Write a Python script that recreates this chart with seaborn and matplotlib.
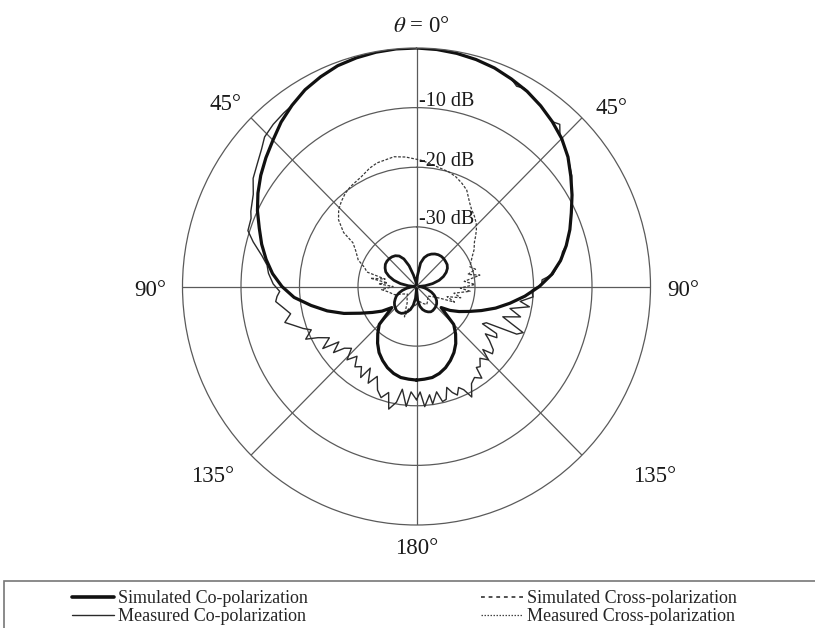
import numpy as np
import matplotlib
matplotlib.use("Agg")
import matplotlib.pyplot as plt
from matplotlib.lines import Line2D
from matplotlib.patches import Rectangle
import seaborn as sns

sns.set_theme(style="white")
plt.rcParams["font.family"] = ["Liberation Serif", "DejaVu Serif"]
plt.rcParams["mathtext.fontset"] = "stix"

# ---- radiation pattern data (dB, angle in degrees from broadside) ----
sim_angles = list(range(-180, 181, 5))

sim_co = [
    -24.3, -24.4, -24.5, -24.9, -25.5, -26.3, -27.2, -28.4, -29.7, -31.0,
    -34.5, -32.8, -31.3, -29.4, -26.8, -24.2, -21.7, -19.0, -17.0, -15.3,
    -13.9, -12.6, -11.4, -10.0, -8.7, -7.5, -6.4, -5.3, -4.0, -2.9,
    -1.9, -1.2, -0.6, -0.3, -0.1, 0.0, 0.0, -0.1, -0.3, -0.6,
    -1.0, -1.6, -2.2, -3.0, -3.9, -4.9, -6.2, -7.8, -9.3, -10.8,
    -12.1, -13.5, -15.0, -16.8, -19.0, -21.4, -23.8, -26.0, -28.2, -30.1,
    -31.6, -33.0, -34.5, -31.0, -29.6, -28.3, -27.2, -26.3, -25.5, -24.9,
    -24.5, -24.4, -24.3,
]

sim_cross = [
    -39.6, -38.0, -36.8, -36.0, -35.5, -35.1, -34.8, -34.7, -34.7, -34.9,
    -35.1, -35.4, -35.8, -36.2, -36.8, -37.5, -38.3, -39.1, -39.7, -38.6,
    -37.2, -36.0, -35.0, -34.2, -33.8, -33.5, -33.4, -33.4, -33.5, -33.7,
    -34.1, -34.9, -36.3, -38.0, -39.0, -39.5, -39.7, -38.2, -36.0, -35.0,
    -34.4, -34.0, -33.7, -33.5, -33.4, -33.4, -33.5, -33.6, -33.9, -34.4,
    -35.1, -36.0, -37.2, -38.5, -39.6, -39.2, -38.6, -38.0, -37.3, -36.7,
    -36.2, -35.8, -35.5, -35.3, -35.2, -35.1, -35.1, -35.3, -35.6, -36.0,
    -36.6, -37.6, -39.6,
]

meas_co_angles = [
    -180, -177, -175, -172, -170, -167, -165, -162, -159, -156,
    -153, -150, -148, -145, -142, -139, -136, -133, -130, -128,
    -125, -123, -120, -117, -115, -112, -110, -107, -105, -102,
    -99, -96, -94, -92, -89, -85, -82, -79, -75, -72,
    -68, -66, -61, -57, -53, -49, -46, -42, -38, -35,
    -30, -25, -20, -15, -10, -5, 0, 5, 10, 15,
    20, 25, 27, 29, 35, 40, 42, 44, 50, 55,
    57, 60, 65, 70, 75, 77, 79, 85, 87, 89,
    92, 95, 98, 100, 103, 106, 109, 111, 113, 115,
    117, 119, 120, 122, 124, 126, 129, 131, 133, 135,
    138, 141, 143, 144, 147, 150, 153, 155, 157, 159,
    161, 163, 165, 167, 169, 172, 173, 176, 178, 180,
]
meas_co = [
    -21.0, -22.3, -19.8, -22.6, -20.3, -18.9, -21.6, -20.4, -21.4, -23.5,
    -21.8, -24.2, -22.0, -23.6, -22.9, -24.5, -22.9, -24.8, -23.9, -22.0,
    -23.8, -20.9, -22.8, -21.1, -19.1, -20.6, -19.4, -17.9, -16.7, -18.0,
    -17.0, -15.8, -16.1, -16.6, -15.5, -14.6, -14.2, -13.1, -11.1, -9.7,
    -9.5, -9.0, -8.1, -6.7, -5.9, -4.9, -3.9, -3.4, -3.1, -2.9,
    -1.9, -1.2, -0.6, -0.3, -0.1, 0.0, 0.0, -0.1, -0.3, -0.6,
    -1.0, -1.6, -2.3, -2.0, -3.0, -3.9, -3.4, -4.7, -6.2, -7.6,
    -8.4, -9.3, -10.8, -12.1, -13.5, -14.4, -14.6, -16.6, -18.5, -18.6,
    -20.3, -20.0, -22.1, -20.4, -23.6, -21.5, -24.4, -22.6, -20.2, -21.1,
    -26.6, -27.1, -24.2, -23.8, -25.8, -24.6, -23.1, -22.8, -24.5, -22.6,
    -23.8, -22.7, -23.0, -21.0, -21.8, -21.2, -19.2, -20.9, -21.6, -20.5,
    -21.2, -22.3, -20.4, -20.2, -22.0, -20.1, -21.7, -19.8, -22.3, -21.0,
]

meas_cross_angles = [
    -180, -170, -160, -158, -155, -150, -140, -130, -120, -110,
    -100, -95, -90, -86, -83, -80, -77, -74, -70, -66,
    -60, -56, -54, -50, -46, -42, -38, -34, -27, -22,
    -18, -10, -5, -3, 2, 6, 11, 16, 20, 24,
    28, 33, 36, 40, 44, 47, 50, 53, 58, 62,
    66, 70, 74, 77, 80, 84, 88, 92, 95, 100,
    104, 108, 112, 116, 120, 130, 140, 150, 160, 170,
    180,
]
meas_cross = [
    -37.0, -36.5, -36.0, -34.5, -35.5, -36.8, -37.5, -38.0, -37.5, -36.0,
    -35.0, -34.0, -36.0, -33.5, -35.0, -32.0, -34.5, -31.2, -30.5, -29.1,
    -28.0, -26.9, -24.6, -22.6, -21.5, -20.8, -20.2, -19.8, -19.3, -18.6,
    -18.2, -17.9, -18.2, -18.4, -18.8, -19.2, -19.7, -20.0, -20.4, -21.0,
    -21.7, -23.3, -24.0, -24.6, -25.3, -26.0, -26.8, -27.6, -28.4, -29.2,
    -29.8, -30.3, -29.5, -31.0, -29.0, -31.8, -30.0, -32.5, -30.8, -33.5,
    -32.2, -34.5, -33.0, -35.5, -36.5, -37.5, -37.0, -36.5, -37.0, -37.5,
    -37.0,
]

ring_levels = [-30, -20, -10]
ring_labels = ["-30 dB", "-20 dB", "-10 dB"]
spoke_angles = [0, 45, 90, 135, 180, 225, 270, 315]

legend_labels = [
    "Simulated Co-polarization",
    "Measured Co-polarization",
    "Simulated Cross-polarization",
    "Measured Cross-polarization",
]

W, H = 815, 628
fig = plt.figure(figsize=(W / 100, H / 100), dpi=100)
fig.patch.set_facecolor("white")

# polar axes box in pixels: left, top, right, bottom
px_l, px_t, px_r, px_b = 182.5, 48, 650.5, 525
ax = fig.add_axes([px_l / W, 1 - px_b / H, (px_r - px_l) / W, (px_b - px_t) / H],
                  projection="polar")
ax.set_aspect("auto")
ax.set_theta_zero_location("N")
ax.set_theta_direction(-1)
ax.set_facecolor("white")

grid_c = "#5a5a5a"
ax.set_ylim(-40, 0)
ax.set_yticks(ring_levels)
ax.set_yticklabels([])
ax.set_xticks(np.deg2rad(spoke_angles))
ax.set_xticklabels([])
ax.grid(True, color=grid_c, linewidth=0.9)
ax.spines["polar"].set_color(grid_c)
ax.spines["polar"].set_linewidth(0.9)

sns.lineplot(x=np.deg2rad(meas_cross_angles), y=meas_cross, ax=ax, sort=False,
             estimator=None, color="#3a3a3a", linewidth=0.9,
             linestyle=(0, (2.2, 1.3)), legend=False)
sns.lineplot(x=np.deg2rad(sim_angles), y=sim_cross, ax=ax, sort=False,
             estimator=None, color="#161616", linewidth=2.0, legend=False)
sns.lineplot(x=np.deg2rad(meas_co_angles), y=meas_co, ax=ax, sort=False,
             estimator=None, color="#2a2a2a", linewidth=1.0, legend=False)
sns.lineplot(x=np.deg2rad(sim_angles), y=sim_co, ax=ax, sort=False,
             estimator=None, color="#111111", linewidth=2.3, legend=False)


def ftext(x, y, s, **kw):
    fig.text(x / W, 1 - y / H, s, **kw)


lab_kw = dict(fontsize=16.5, color="#1a1a1a", ha="center", va="center")
ftext(421, 27, r"$\theta$ = 0°", **lab_kw)
ftext(226, 105, "45°", **lab_kw)
ftext(612, 108, "45°", **lab_kw)
ftext(150, 290, "90°", **lab_kw)
ftext(683, 290, "90°", **lab_kw)
ftext(213, 476, "135°", **lab_kw)
ftext(655, 476, "135°", **lab_kw)
ftext(417, 548, "180°", **lab_kw)

ring_y = {-10: 101, -20: 161, -30: 220}
for lvl, lab in zip(ring_levels, ring_labels):
    ftext(419, ring_y[lvl], lab, fontsize=14.5, color="#1a1a1a", ha="left", va="center")

handles = [
    Line2D([], [], color="#111111", linewidth=2.6),
    Line2D([], [], color="#2a2a2a", linewidth=1.0),
    Line2D([], [], color="#222222", linewidth=1.1, linestyle=(0, (2.5, 2.5))),
    Line2D([], [], color="#444444", linewidth=0.9, linestyle=(0, (1.2, 1.2))),
]
fig.legend(handles, legend_labels, ncol=2, loc="upper left",
           bbox_to_anchor=(72 / W, 1 - 590 / H), frameon=False,
           prop={"family": "Liberation Serif", "size": 13},
           handlelength=2.3, handletextpad=0.25, columnspacing=9.6,
           labelspacing=0.08, borderpad=0, borderaxespad=0)

fig.patches.append(Rectangle((4 / W, -0.1), 1.2, 0.1 + (H - 581) / H,
                             transform=fig.transFigure, fill=False,
                             edgecolor="#777777", linewidth=1.2))

fig.savefig("out.png", dpi=100, facecolor="white")
